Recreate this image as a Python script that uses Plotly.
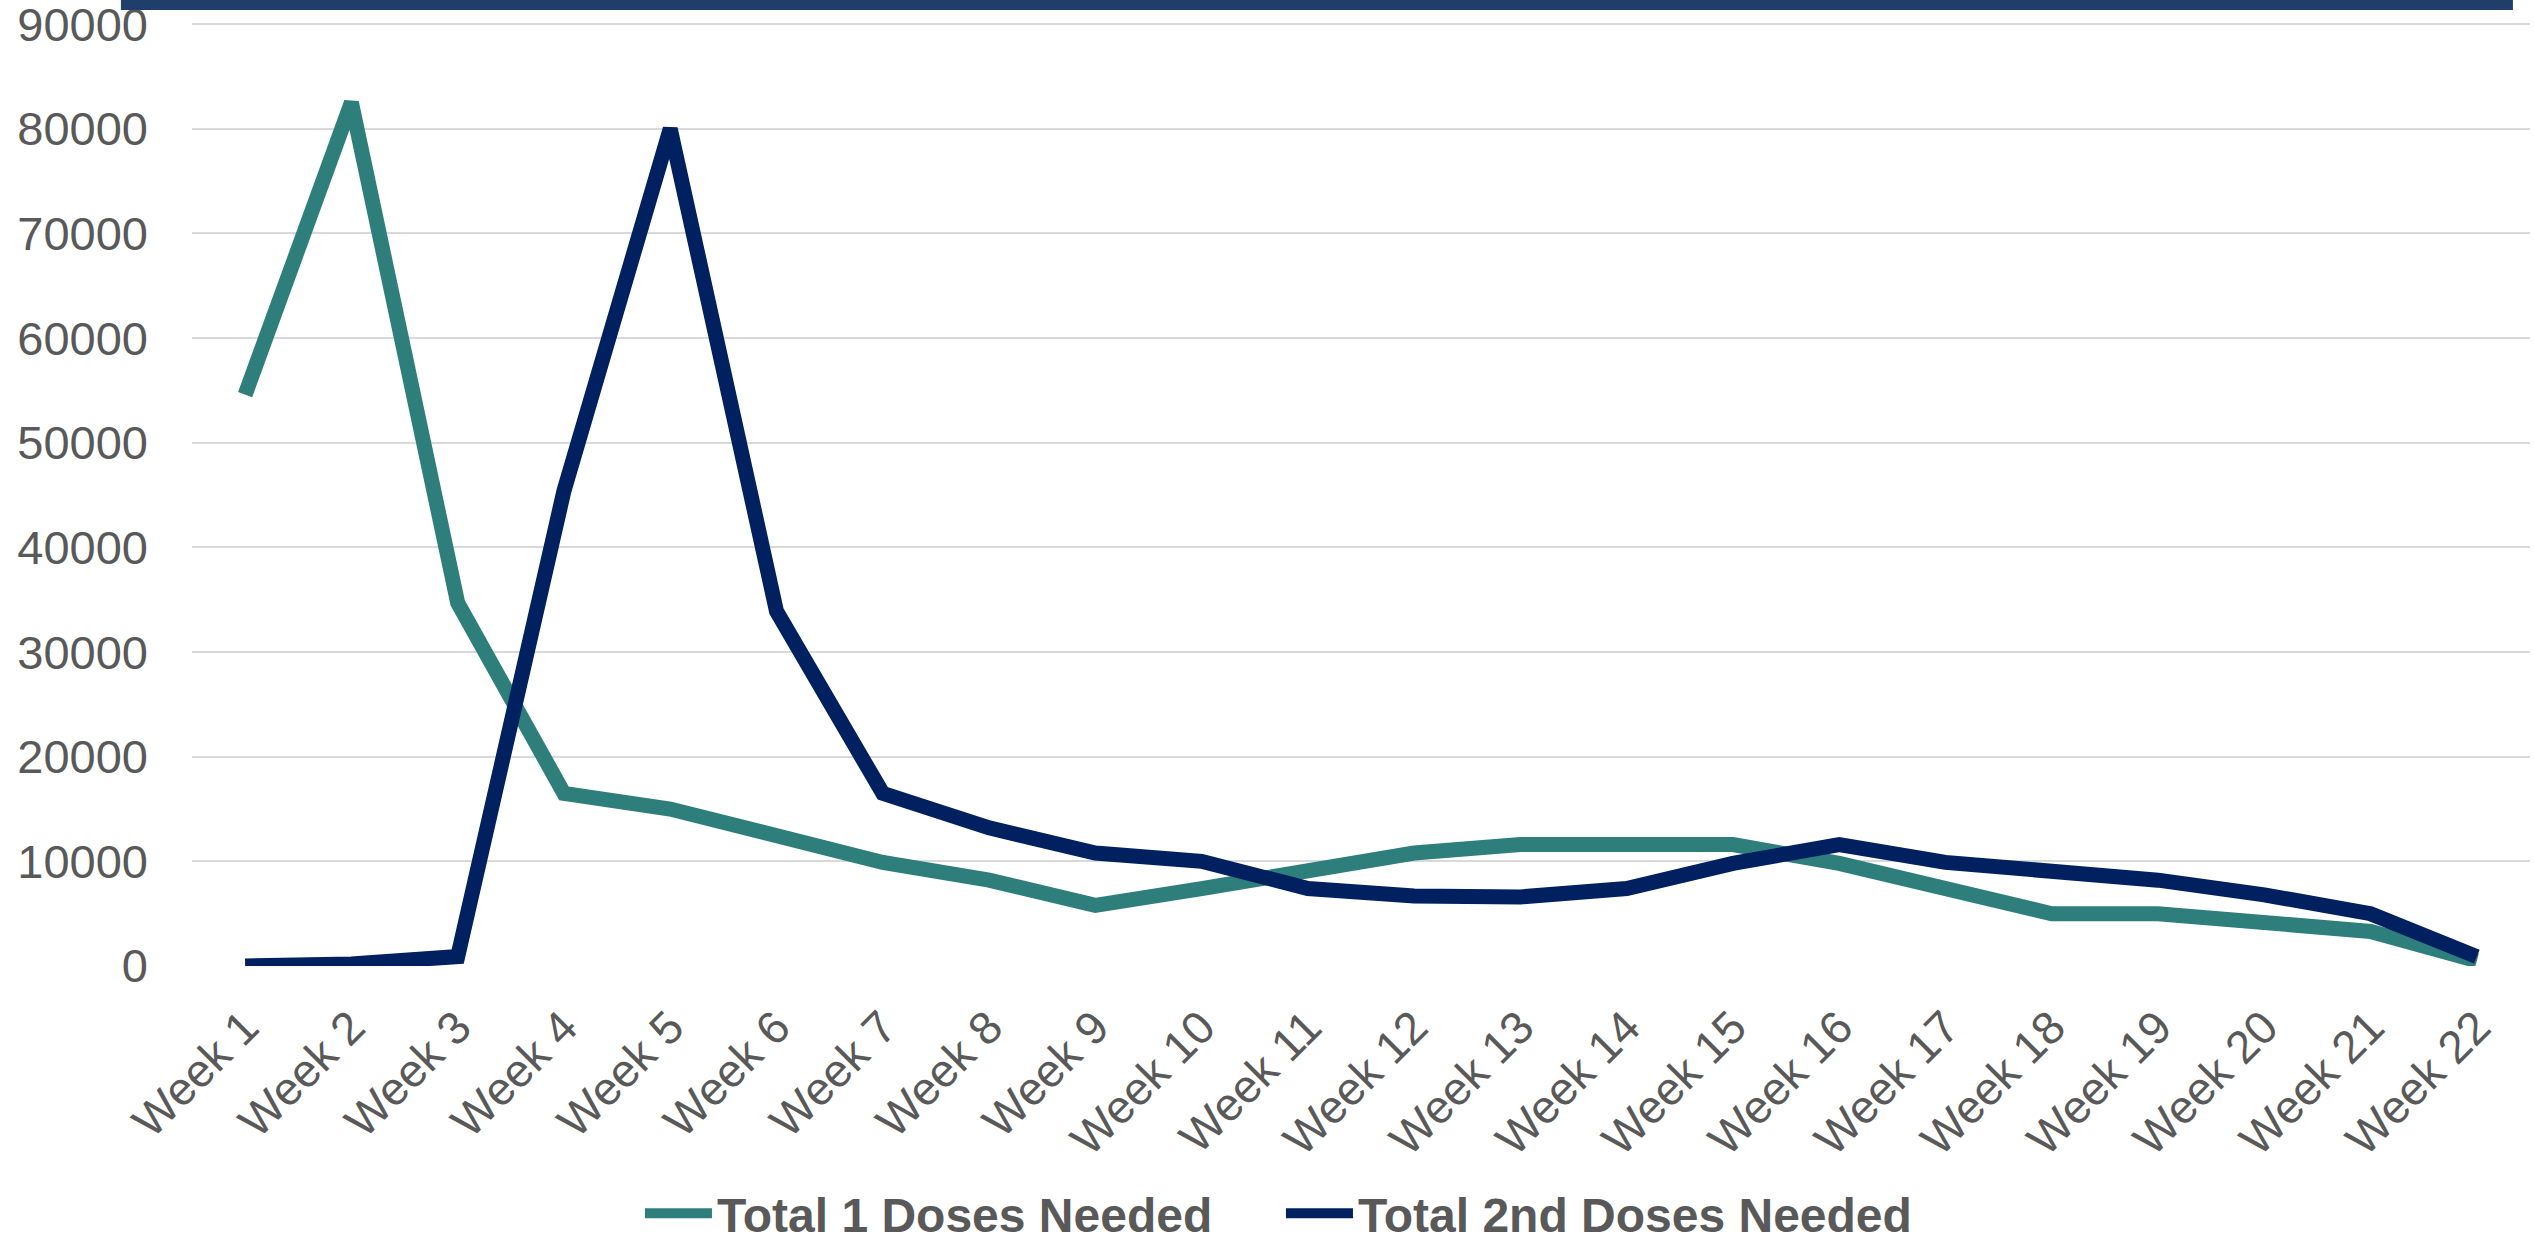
import plotly.graph_objects as go

# Weekly dose requirements
weeks = [f"Week {i}" for i in range(1, 23)]
first_doses = [54600, 82500, 34700, 16500, 15000, 12500, 9900, 8200, 5800, 7400, 9000,
               10800, 11600, 11600, 11600, 9800, 7400, 5000, 5000, 4100, 3300, 500]
second_doses = [0, 200, 900, 45400, 80000, 33900, 16500, 13200, 10800, 10000, 7400,
                6700, 6600, 7400, 9800, 11600, 9900, 9100, 8200, 6800, 5000, 900]
y_ticks = [0, 10000, 20000, 30000, 40000, 50000, 60000, 70000, 80000, 90000]

TEAL = "#2E7E7C"
NAVY = "#002060"
GREY_TEXT = "#595959"
FONT = "Liberation Sans, Arial, sans-serif"

fig = go.Figure()
fig.add_trace(go.Scatter(
    x=weeks, y=first_doses, mode="lines", name="Total 1 Doses Needed",
    line=dict(color=TEAL, width=15),
))
fig.add_trace(go.Scatter(
    x=weeks, y=second_doses, mode="lines", name="Total 2nd Doses Needed",
    line=dict(color=NAVY, width=15),
))

# dark banner across the top edge
fig.add_shape(type="rect", xref="paper", yref="paper",
              x0=-0.0304, x1=0.9927, y0=1.0106, y1=1.06,
              fillcolor="#1F3E6A", line=dict(width=0), layer="above")

fig.update_layout(
    width=2534, height=1246,
    margin=dict(l=192, r=4, t=20, b=280, autoexpand=False),
    paper_bgcolor="white", plot_bgcolor="white",
    font=dict(family=FONT, color=GREY_TEXT),
    showlegend=True,
    legend=dict(orientation="h", xref="paper", x=0.1916, xanchor="left",
                yref="container", y=0.026, yanchor="middle",
                font=dict(size=48, color=GREY_TEXT, family=FONT, weight="bold"),
                itemwidth=67, entrywidth=559, entrywidthmode="pixels",
                bgcolor="rgba(0,0,0,0)", borderwidth=0),
    xaxis=dict(
        type="category", range=[-0.5, 21.5], tickangle=-45, automargin=False,
        showgrid=False, showline=False, zeroline=False, ticks="",
        tickfont=dict(size=46, family=FONT, color=GREY_TEXT),
        ticklabelstandoff=24,
    ),
    yaxis=dict(
        range=[0, 90400], tickvals=y_ticks, ticktext=[str(v) for v in y_ticks],
        automargin=False,
        showgrid=True, gridcolor="#D9D9D9", gridwidth=2, zeroline=False, showline=False,
        ticks="", tickfont=dict(size=47, family=FONT, color=GREY_TEXT),
        ticklabelstandoff=43, ticklabeloverflow="allow",
    ),
)

fig.write_html("out.html")
